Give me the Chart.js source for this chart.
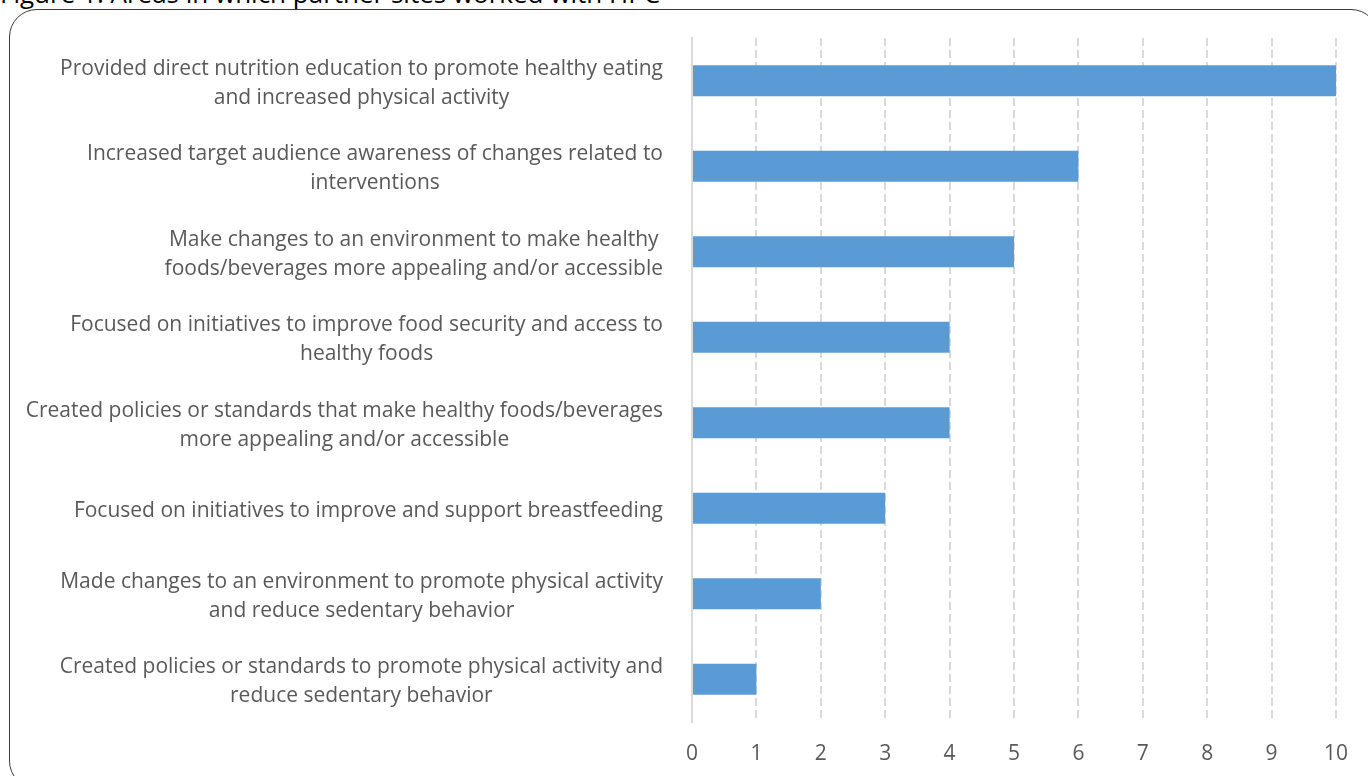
<!DOCTYPE html>
<html>
<head>
<meta charset="utf-8">
<script src="https://cdn.jsdelivr.net/npm/chart.js@4.4.0/dist/chart.umd.min.js"></script>
<style>
  body { margin: 0; background: #fff; overflow: hidden; }
  #wrap { position: relative; width: 1368px; height: 776px; overflow: hidden; }
  #title {
    position: absolute; left: 0; top: -25px;
    font: 26px "Open Sans", sans-serif; color: #000; white-space: nowrap;
  }
  #frame {
    position: absolute; left: 9px; top: 9px; width: 1370px; height: 780px;
    border: 1.5px solid #3a3a3a; border-radius: 28px; box-sizing: border-box;
  }
  #chart { position: absolute; left: 0; top: 0; }
</style>
</head>
<body>
<div id="wrap">
  <div id="title">Figure 1. Areas in which partner sites worked with HPC</div>
  <div id="frame"></div>
  <canvas id="chart" width="1368" height="776"></canvas>
</div>
<script>
// Áreas de trabajo y número de sitios
const categories = [
  ['Provided direct nutrition education to promote healthy eating', 'and increased physical activity'],
  ['Increased target audience awareness of changes related to', 'interventions'],
  ['Make changes to an environment to make healthy', 'foods/beverages more appealing and/or accessible'],
  ['Focused on initiatives to improve food security and access to', 'healthy foods'],
  ['Created policies or standards that make healthy foods/beverages', 'more appealing and/or accessible'],
  ['Focused on initiatives to improve and support breastfeeding'],
  ['Made changes to an environment to promote physical activity', 'and reduce sedentary behavior'],
  ['Created policies or standards to promote physical activity and', 'reduce sedentary behavior']
];
const sites = [10, 6, 5, 4, 4, 3, 2, 1];
const xTicks = [0, 1, 2, 3, 4, 5, 6, 7, 8, 9, 10];

const labelFont = '21px "Open Sans"';
const labelRight = 663;
const labelLine = 29;

// Etiquetas de categoría: bloque alineado a la derecha, líneas centradas entre sí
const categoryLabels = {
  id: 'categoryLabels',
  afterDraw(chart) {
    const ctx = chart.ctx;
    const y = chart.scales.y;
    ctx.save();
    ctx.font = labelFont;
    ctx.fillStyle = '#595959';
    ctx.textAlign = 'center';
    ctx.textBaseline = 'middle';
    chart.data.labels.forEach((lines, i) => {
      const widest = Math.max(...lines.map(l => ctx.measureText(l).width));
      const cx = labelRight - widest / 2;
      const cy = y.getPixelForValue(i) + 2.5;
      const top = cy - (lines.length - 1) * labelLine / 2;
      lines.forEach((l, k) => ctx.fillText(l, cx, top + k * labelLine));
    });
    ctx.restore();
  }
};

const chart = new Chart(document.getElementById('chart'), {
  type: 'bar',
  data: {
    labels: categories,
    datasets: [{
      data: sites,
      backgroundColor: '#5B9BD5',
      borderWidth: 0,
      categoryPercentage: 1,
      barPercentage: 0.36
    }]
  },
  options: {
    indexAxis: 'y',
    responsive: false,
    animation: false,
    layout: { padding: { top: 38, right: 32, left: 0, bottom: 0 } },
    plugins: {
      legend: { display: false },
      tooltip: { enabled: false }
    },
    scales: {
      x: {
        min: 0,
        max: 10,
        afterBuildTicks: s => { s.ticks = xTicks.map(v => ({ value: v })); },
        afterFit: s => { s.height = 54; },
        border: { display: false, dash: [8, 4] },
        grid: {
          drawTicks: false,
          color: ctx => ctx.index === 0 ? 'rgba(0,0,0,0)' : '#d9d9d9',
          lineWidth: 2
        },
        ticks: {
          color: '#595959',
          padding: 19,
          font: { family: 'Open Sans', size: 21 }
        }
      },
      y: {
        afterFit: s => { s.width = 692; },
        border: { display: true, color: '#d9d9d9', width: 2 },
        grid: { display: false, drawTicks: false },
        ticks: { display: false }
      }
    }
  },
  plugins: [categoryLabels]
});
</script>
</body>
</html>
